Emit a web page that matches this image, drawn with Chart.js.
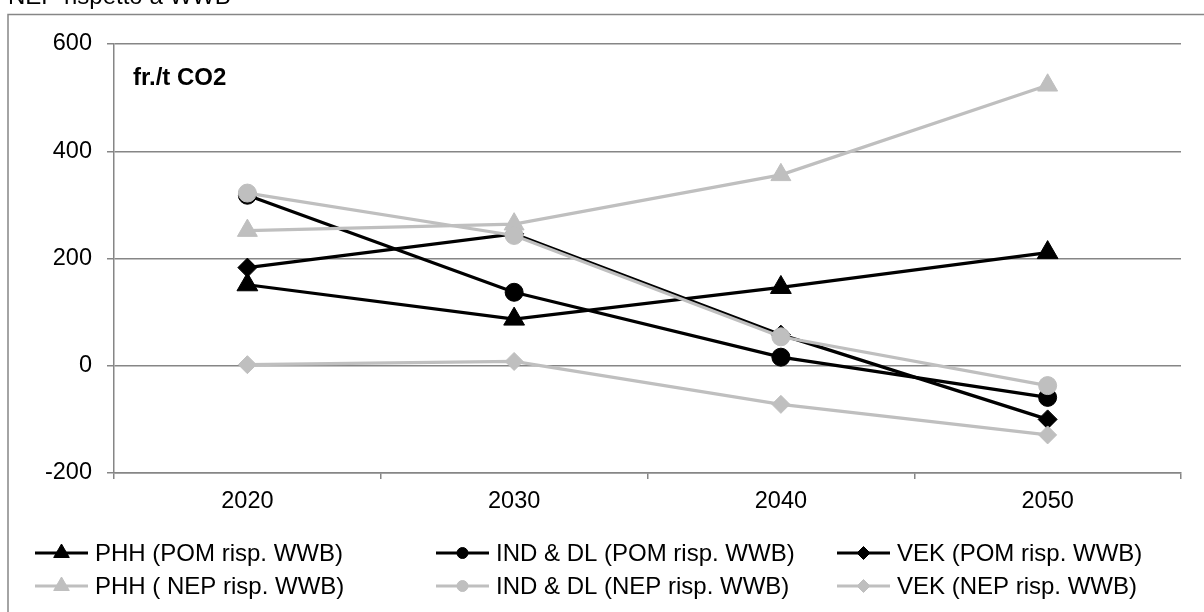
<!DOCTYPE html>
<html>
<head>
<meta charset="utf-8">
<script src="https://cdn.jsdelivr.net/npm/chart.js@4/dist/chart.umd.min.js"></script>
<style>
  html, body { margin: 0; padding: 0; background: #fff; }
  #wrap { width: 1204px; height: 612px; position: relative; overflow: hidden; }
  canvas { display: block; }
</style>
</head>
<body>
<div id="wrap"><canvas id="c" width="1204" height="612"></canvas></div>
<script>
// Categories, series and tick values
const years = ['2020', '2030', '2040', '2050'];
const phhPom = [151, 87, 146, 211];
const indPom = [318, 137, 16, -59];
const vekPom = [183, 246, 58, -100];
const phhNep = [252, 264, 356, 523];
const indNep = [322, 243, 54, -37];
const vekNep = [2, 8, -72, -129];
const seriesNames = [
  'PHH (POM risp. WWB)', 'IND & DL (POM risp. WWB)', 'VEK (POM risp. WWB)',
  'PHH ( NEP risp. WWB)', 'IND & DL (NEP risp. WWB)', 'VEK (NEP risp. WWB)'
];
const yTicks = [-200, 0, 200, 400, 600];
const unitLabel = 'fr./t CO2';
const headerText = 'NEP rispetto a WWB';

const FONT = '"Liberation Sans", Arial, Helvetica, sans-serif';
const BLACK = '#000000';
const GREY = '#bfbfbf';
const AXIS = '#868686';

Chart.defaults.font.family = FONT;
Chart.defaults.color = '#000';

const values = [phhPom, indPom, vekPom, phhNep, indNep, vekNep];
const styles = [
  { color: BLACK, point: 'triangle', r: 12, lr: 9 },
  { color: BLACK, point: 'circle', r: 9, lr: 5.5 },
  { color: BLACK, point: 'rectRot', r: 9.5, lr: 6.5 },
  { color: GREY, point: 'triangle', r: 11.5, lr: 9 },
  { color: GREY, point: 'circle', r: 9, lr: 5.5 },
  { color: GREY, point: 'rectRot', r: 9, lr: 6.5 }
];

const datasets = values.map((vals, i) => ({
  label: seriesNames[i],
  data: vals,
  borderColor: styles[i].color,
  backgroundColor: styles[i].color,
  borderWidth: 3.2,
  pointStyle: styles[i].point,
  pointRadius: styles[i].r,
  pointHoverRadius: styles[i].r,
  pointBorderWidth: 1,
  pointBorderColor: styles[i].color,
  pointBackgroundColor: styles[i].color,
  tension: 0,
  fill: false,
  order: values.length - i,
  legendRadius: styles[i].lr
}));

// Outer frame, header line and unit label
const decorations = {
  id: 'decorations',
  beforeDraw(chart) {
    const ctx = chart.ctx;
    ctx.save();
    ctx.fillStyle = '#fff';
    ctx.fillRect(0, 0, chart.width, chart.height);
    ctx.strokeStyle = AXIS;
    ctx.lineWidth = 1.5;
    ctx.beginPath();
    ctx.moveTo(8, chart.height + 2);
    ctx.lineTo(8, 14.5);
    ctx.lineTo(chart.width + 2, 14.5);
    ctx.stroke();
    ctx.fillStyle = '#000';
    ctx.font = '24px ' + FONT;
    ctx.textBaseline = 'alphabetic';
    ctx.textAlign = 'left';
    ctx.fillText(headerText, 8, 4);
    ctx.restore();
  },
  afterDraw(chart) {
    const ctx = chart.ctx;
    ctx.save();
    ctx.fillStyle = '#000';
    ctx.font = 'bold 24px ' + FONT;
    ctx.textBaseline = 'middle';
    ctx.textAlign = 'left';
    ctx.fillText(unitLabel, 133, 78);
    ctx.restore();
  }
};

// Three-column legend below the plot
const gridLegend = {
  id: 'gridLegend',
  afterDraw(chart) {
    const ctx = chart.ctx;
    const colX = [35, 436, 837];
    const rowY = [553, 586];
    const lineLen = 53;
    ctx.save();
    chart.data.datasets.forEach((ds, i) => {
      const x = colX[i % 3];
      const y = rowY[Math.floor(i / 3)];
      ctx.strokeStyle = ds.borderColor;
      ctx.lineWidth = 3.2;
      ctx.beginPath();
      ctx.moveTo(x, y);
      ctx.lineTo(x + lineLen, y);
      ctx.stroke();
      ctx.fillStyle = ds.pointBackgroundColor;
      ctx.strokeStyle = ds.pointBorderColor;
      ctx.lineWidth = 1;
      Chart.helpers.drawPoint(ctx, {
        pointStyle: ds.pointStyle,
        radius: ds.legendRadius,
        rotation: 0,
        borderWidth: 1
      }, x + lineLen / 2, y);
      ctx.fillStyle = '#000';
      ctx.font = '24px ' + FONT;
      ctx.textBaseline = 'middle';
      ctx.textAlign = 'left';
      ctx.fillText(ds.label, x + lineLen + 7, y + 1);
    });
    ctx.restore();
  }
};

new Chart(document.getElementById('c'), {
  type: 'line',
  data: { labels: years, datasets },
  options: {
    responsive: false,
    animation: false,
    devicePixelRatio: 1,
    layout: { padding: { top: 44, right: 23, bottom: 0, left: 0 } },
    plugins: {
      legend: { display: false },
      tooltip: { enabled: false }
    },
    scales: {
      x: {
        type: 'category',
        offset: true,
        grid: {
          offset: true,
          drawOnChartArea: false,
          drawTicks: true,
          tickLength: 6,
          color: AXIS,
          lineWidth: 1.5
        },
        border: { display: true, color: AXIS, width: 1.5 },
        ticks: { color: '#000', font: { size: 23.5 }, padding: 8, maxRotation: 0 },
        afterFit(scale) { scale.height = 139; }
      },
      y: {
        min: -200,
        max: 600,
        afterBuildTicks(scale) { scale.ticks = yTicks.map(v => ({ value: v })); },
        grid: { color: AXIS, lineWidth: 1.5, tickLength: 7, drawTicks: true },
        border: { display: true, color: AXIS, width: 1.5 },
        ticks: { color: '#000', font: { size: 23.5 }, padding: 15 },
        afterFit(scale) { scale.width = 114; }
      }
    }
  },
  plugins: [decorations, gridLegend]
});
</script>
</body>
</html>
